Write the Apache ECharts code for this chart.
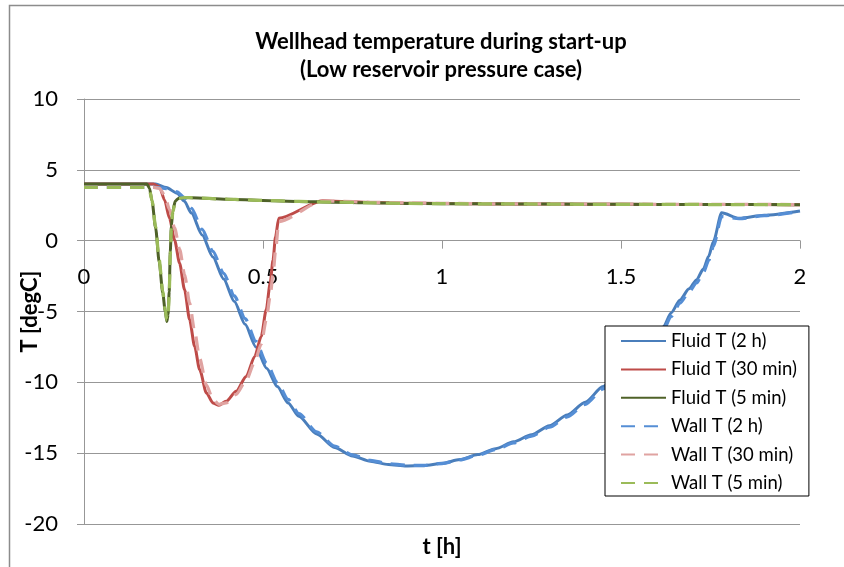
<!DOCTYPE html>
<html>
<head>
<meta charset="utf-8">
<script src="https://cdn.jsdelivr.net/npm/echarts@6/dist/echarts.min.js"></script>
<style>
  html, body { margin: 0; padding: 0; background: #fff; }
  #chart { width: 844px; height: 567px; }
</style>
</head>
<body>
<div id="chart"></div>
<script>
// Wellhead temperature during start-up, low reservoir pressure case.
// Time in hours, temperature in degC.

const xTicks = [0, 0.5, 1, 1.5, 2];
const yTicks = [-20, -15, -10, -5, 0, 5, 10];

// 2 h start-up
const t2h = [0, 0.2, 0.23, 0.26, 0.28, 0.3, 0.33, 0.36, 0.39, 0.42, 0.45, 0.48, 0.51, 0.54,
  0.57, 0.6, 0.65, 0.7, 0.75, 0.8, 0.85, 0.9, 0.95, 1.0, 1.05, 1.1, 1.15, 1.2, 1.25,
  1.3, 1.35, 1.4, 1.45, 1.5, 1.55, 1.6, 1.618, 1.64, 1.665, 1.69, 1.711, 1.73, 1.745, 1.758,
  1.781, 1.83, 1.9, 2.0];
const fluid2h = [4.0, 4.0, 3.75, 3.35, 2.8, 1.95, 0.4, -1.15, -2.7, -4.3, -5.9, -7.5, -9.0, -10.3,
  -11.45, -12.4, -13.65, -14.6, -15.2, -15.57, -15.8, -15.9, -15.88, -15.72, -15.45, -15.1, -14.68, -14.2, -13.7,
  -13.06, -12.3, -11.4, -10.3, -9.2, -8.0, -6.7, -6.1, -5.1, -4.18, -3.4, -2.77, -2.0, -1.1, -0.07,
  1.97, 1.58, 1.79, 2.09];
const wall2h = [3.76, 3.76, 3.68, 3.45, 3.05, 2.3, 0.8, -0.75, -2.3, -3.9, -5.5, -7.1, -8.65, -10.0,
  -11.2, -12.2, -13.5, -14.5, -15.12, -15.5, -15.74, -15.85, -15.86, -15.73, -15.48, -15.15, -14.75, -14.28, -13.8,
  -13.17, -12.43, -11.55, -10.47, -9.38, -8.2, -6.92, -6.32, -5.35, -4.4, -3.62, -2.98, -2.25, -1.4, -0.4,
  1.7, 1.55, 1.76, 2.06];

// 30 min start-up
const t30 = [0, 0.194, 0.211, 0.225, 0.239, 0.253, 0.267, 0.281, 0.295, 0.309, 0.323, 0.342, 0.36, 0.377,
  0.397, 0.425, 0.453, 0.477, 0.495, 0.509, 0.52, 0.528, 0.535, 0.544, 0.667, 0.7, 0.8, 0.9, 1.0, 1.2,
  1.4, 1.6, 1.8, 2.0];
const fluid30 = [4.0, 4.0, 3.8, 2.87, 1.58, 0.05, -1.59, -3.47, -5.58, -7.46, -9.1, -10.75, -11.45, -11.62,
  -11.34, -10.63, -9.58, -8.17, -6.76, -4.88, -3.0, -1.36, 0.28, 1.58, 2.82, 2.78, 2.7, 2.65, 2.62, 2.59,
  2.57, 2.56, 2.55, 2.54];
const wall30 = [3.76, 3.76, 3.7, 3.2, 2.2, 0.9, -0.6, -2.4, -4.4, -6.4, -8.3, -10.2, -11.2, -11.55,
  -11.45, -10.85, -9.85, -8.55, -7.3, -5.6, -3.9, -2.4, -0.7, 1.35, 2.8, 2.79, 2.71, 2.66, 2.63, 2.6,
  2.58, 2.57, 2.56, 2.55];

// 5 min start-up
const t5 = [0, 0.176, 0.183, 0.19, 0.2, 0.21, 0.22, 0.227, 0.2315, 0.235, 0.238, 0.241, 0.244, 0.248,
  0.255, 0.265, 0.28, 0.3, 0.4, 0.5, 0.6, 0.7, 0.8, 0.9, 1.0, 1.2, 1.4, 1.6, 1.8, 2.0];
const fluid5 = [4.0, 4.0, 3.7, 2.8, 0.9, -1.5, -3.7, -5.0, -5.7, -5.2, -3.6, -0.8, 1.0, 2.1,
  2.8, 3.0, 3.05, 3.03, 2.93, 2.84, 2.77, 2.72, 2.67, 2.63, 2.61, 2.59, 2.57, 2.56, 2.55, 2.54];
const wall5 = [3.76, 3.76, 3.55, 2.85, 1.0, -1.35, -3.55, -4.9, -5.6, -5.25, -3.8, -1.0, 0.8, 2.0,
  2.75, 2.98, 3.04, 3.03, 2.93, 2.84, 2.77, 2.72, 2.67, 2.63, 2.61, 2.59, 2.57, 2.56, 2.55, 2.54];

const seriesNames = ['Fluid T (2 h)', 'Fluid T (30 min)', 'Fluid T (5 min)',
  'Wall T (2 h)', 'Wall T (30 min)', 'Wall T (5 min)'];

const FONT = 'Lato';
const GRID = '#979797';

// plot box
const PLOT = { left: 84, right: 44, top: 99, bottom: 43 };
const PLOT_H = 567 - PLOT.top - PLOT.bottom;
// the t axis is drawn across the 0 degC line
const X_AXIS_LIFT = PLOT_H * (0 - yTicks[0]) / (yTicks[yTicks.length - 1] - yTicks[0]);

function pairs(ts, vs) { return ts.map((t, i) => [t, vs[i]]); }

function lineSeries(name, ts, vs, color, dashed) {
  return {
    name: name,
    type: 'line',
    data: pairs(ts, vs),
    symbol: 'none',
    smooth: 0.25,
    smoothMonotone: 'x',
    lineStyle: { color: color, width: dashed ? 3.25 : 3, type: dashed ? [14, 9] : 'solid', cap: 'butt' },
    itemStyle: { color: color },
    emphasis: { disabled: true }
  };
}

const chart = echarts.init(document.getElementById('chart'), null, { renderer: 'canvas' });

chart.setOption({
  animation: false,
  backgroundColor: '#fff',
  textStyle: { fontFamily: FONT },
  graphic: [{
    type: 'rect',
    silent: true,
    z: -10,
    shape: { x: 9.5, y: 5.5, width: 880, height: 620 },
    style: { fill: null, stroke: '#8c8c8c', lineWidth: 1.5 }
  }],
  title: {
    text: 'Wellhead temperature during start-up\n(Low reservoir pressure case)',
    left: 441,
    top: 27.5,
    padding: 0,
    textAlign: 'center',
    textStyle: { fontFamily: FONT, fontWeight: 'bold', fontSize: 22, lineHeight: 28.3, color: '#000' }
  },
  grid: { left: PLOT.left, right: PLOT.right, top: PLOT.top, bottom: PLOT.bottom, containLabel: false, outerBoundsMode: 'none' },
  xAxis: {
    type: 'value',
    position: 'bottom',
    offset: -X_AXIS_LIFT,
    min: xTicks[0],
    max: xTicks[xTicks.length - 1],
    interval: xTicks[1] - xTicks[0],
    axisLine: { onZero: false, lineStyle: { color: GRID, width: 1 } },
    axisTick: { show: true, length: 8, lineStyle: { color: GRID } },
    axisLabel: { fontFamily: FONT, fontSize: 22, lineHeight: 24, color: '#000', margin: 24 },
    splitLine: { show: false },
    name: 't [h]',
    nameLocation: 'middle',
    nameGap: 294,
    nameMoveOverlap: false,
    nameTextStyle: { fontFamily: FONT, fontWeight: 'bold', fontSize: 22, lineHeight: 24, color: '#000' }
  },
  yAxis: {
    type: 'value',
    min: yTicks[0],
    max: yTicks[yTicks.length - 1],
    interval: yTicks[1] - yTicks[0],
    axisLine: { show: true, onZero: false, lineStyle: { color: GRID, width: 1 } },
    axisTick: { show: true, length: 7, lineStyle: { color: GRID } },
    axisLabel: { fontFamily: FONT, fontSize: 22, lineHeight: 24, color: '#000', margin: 26 },
    splitLine: { show: true, lineStyle: { color: GRID, width: 1 } },
    name: 'T [degC]',
    nameLocation: 'middle',
    nameGap: 42,
    nameMoveOverlap: false,
    nameTextStyle: { fontFamily: FONT, fontWeight: 'bold', fontSize: 22, lineHeight: 24, color: '#000' }
  },
  legend: {
    orient: 'vertical',
    left: 605,
    top: 326,
    padding: [5, 12, 3, 15],
    itemWidth: 45,
    itemHeight: 20,
    itemGap: 8.4,
    backgroundColor: '#fff',
    borderColor: '#000',
    borderWidth: 1,
    borderRadius: 0,
    selectedMode: false,
    itemStyle: { opacity: 0, color: 'rgba(0,0,0,0)', borderWidth: 0 },
    textStyle: { fontFamily: FONT, fontSize: 18.5, lineHeight: 20, color: '#000' },
    data: seriesNames
  },
  series: [
    lineSeries(seriesNames[0], t2h, fluid2h, '#4A7EBB', false),
    lineSeries(seriesNames[1], t30, fluid30, '#BE4B48', false),
    lineSeries(seriesNames[2], t5, fluid5, '#4F6228', false),
    lineSeries(seriesNames[3], t2h, wall2h, '#558ED5', true),
    lineSeries(seriesNames[4], t30, wall30, '#E0A3A1', true),
    lineSeries(seriesNames[5], t5, wall5, '#9BBB59', true)
  ]
});
</script>
</body>
</html>
